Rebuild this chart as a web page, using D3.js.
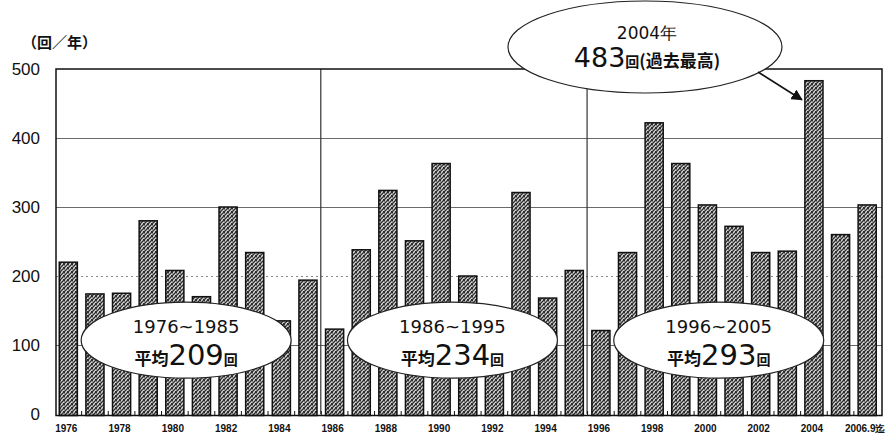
<!DOCTYPE html>
<html>
<head>
<meta charset="utf-8">
<script src="https://cdn.jsdelivr.net/npm/d3@7/dist/d3.min.js"></script>
<style>
  html, body { margin: 0; padding: 0; background: #fff; }
  svg { display: block; }
</style>
</head>
<body>
<script>
// Annual counts (回/年), 1976 through September 2006
const years = ["1976","1977","1978","1979","1980","1981","1982","1983","1984","1985",
               "1986","1987","1988","1989","1990","1991","1992","1993","1994","1995",
               "1996","1997","1998","1999","2000","2001","2002","2003","2004","2005","2006.9迄"];
const counts = [220, 174, 175, 280, 208, 170, 300, 234, 135, 194,
                123, 238, 324, 251, 363, 200, 144, 321, 168, 208,
                121, 234, 422, 363, 303, 272, 234, 236, 483, 260, 303];
const tickYears = ["1976","1978","1980","1982","1984","1986","1988","1990","1992","1994",
                   "1996","1998","2000","2002","2004","2006.9迄"];
const yTicks = [0, 100, 200, 300, 400, 500];
const periodLabels = ["1976~1985", "1986~1995", "1996~2005"];
const periodStarts = ["1976", "1986", "1996"];
const periodEnds = ["1985", "1995", "2005"];
const periodAverages = [209, 234, 293];
const recordYear = "2004";
const recordValue = 483;

const W = 893, H = 441;
const svg = d3.select("body").append("svg").attr("width", W).attr("height", H);

const x = d3.scaleBand().domain(years).range([55, 880.5]).paddingInner(0.32).paddingOuter(0.16);
const y = d3.scaleLinear().domain([0, 500]).range([414, 69]);
const frameL = 56, frameR = 882;

// dithered bar fill
const defs = svg.append("defs");
const pat = defs.append("pattern").attr("id", "dither")
  .attr("width", 4).attr("height", 4).attr("patternUnits", "userSpaceOnUse");
pat.append("rect").attr("width", 4).attr("height", 4).attr("fill", "#8a8a8a");
[[0,0],[2,1],[1,2],[3,3],[0,3],[3,0]].forEach(([px, py]) =>
  pat.append("rect").attr("x", px).attr("y", py).attr("width", 1).attr("height", 1).attr("fill", "#2e2e2e"));
[[2,3],[1,0],[3,2]].forEach(([px, py]) =>
  pat.append("rect").attr("x", px).attr("y", py).attr("width", 1).attr("height", 1).attr("fill", "#d8d8d8"));

// gridlines
svg.append("g").selectAll("line").data(yTicks.filter(t => t > 0 && t < 500)).join("line")
  .attr("x1", frameL).attr("x2", frameR)
  .attr("y1", d => y(d) + 0.5).attr("y2", d => y(d) + 0.5)
  .attr("stroke", d => d === 200 ? "#888" : "#6a6a6a")
  .attr("stroke-width", 1)
  .attr("stroke-dasharray", d => d === 200 ? "2,3" : null);

// period separators
svg.append("g").selectAll("line").data(periodStarts.slice(1)).join("line")
  .attr("x1", d => x(d) - x.step() * x.paddingInner() / 2 - 0.5)
  .attr("x2", d => x(d) - x.step() * x.paddingInner() / 2 - 0.5)
  .attr("y1", y(500)).attr("y2", y(0))
  .attr("stroke", "#333").attr("stroke-width", 1.2);

// bars
svg.append("g").selectAll("rect").data(years).join("rect")
  .attr("x", d => x(d))
  .attr("y", (d, i) => y(counts[i]))
  .attr("width", x.bandwidth())
  .attr("height", (d, i) => y(0) - y(counts[i]) + 1.5)
  .attr("fill", "url(#dither)")
  .attr("stroke", "#111").attr("stroke-width", 1.5);

// frame
svg.append("rect").attr("x", frameL).attr("y", y(500))
  .attr("width", frameR - frameL).attr("height", y(0) - y(500) + 1.5)
  .attr("fill", "none").attr("stroke", "#111").attr("stroke-width", 1.5);

// small ticks at band boundaries along the baseline
svg.append("g").selectAll("line").data(years.slice(1)).join("line")
  .attr("x1", d => x(d) - x.step() * x.paddingInner() / 2)
  .attr("x2", d => x(d) - x.step() * x.paddingInner() / 2)
  .attr("y1", y(0) + 1.5).attr("y2", y(0) - 3)
  .attr("stroke", "#111").attr("stroke-width", 1);

// y axis labels
svg.append("g").selectAll("text").data(yTicks).join("text")
  .attr("x", 40).attr("y", d => y(d))
  .attr("dy", "0.36em")
  .attr("text-anchor", "end")
  .attr("font-family", "Liberation Sans, Arial, sans-serif")
  .attr("font-size", 17)
  .attr("fill", "#111")
  .text(d => d);

svg.append("text").attr("x", 22).attr("y", 48)
  .attr("font-family", "Noto Sans CJK JP, sans-serif")
  .attr("font-size", 15).attr("font-weight", "bold").attr("fill", "#111")
  .text("（回／年）");

// x axis labels
svg.append("g").selectAll("text").data(tickYears).join("text")
  .attr("x", d => x(d) + x.bandwidth() / 2 - 2)
  .attr("y", 432)
  .attr("text-anchor", "middle")
  .attr("font-family", "Liberation Sans, Arial, sans-serif")
  .attr("font-size", 10).attr("font-weight", "bold")
  .attr("fill", "#111")
  .text(d => d);

// period average callouts
const periodG = svg.append("g");
periodLabels.forEach((lab, i) => {
  const cx = (x(periodStarts[i]) - x.step() * x.paddingInner() / 2 +
              x(periodEnds[i]) + x.bandwidth() + x.step() * x.paddingInner() / 2) / 2 - 2;
  const cy = y(107);
  const g = periodG.append("g");
  g.append("ellipse").attr("cx", cx).attr("cy", cy).attr("rx", 105).attr("ry", 38)
    .attr("fill", "#fff").attr("stroke", "#222").attr("stroke-width", 1.2);
  g.append("text").attr("x", cx).attr("y", cy - 7)
    .attr("text-anchor", "middle")
    .attr("font-family", "DejaVu Sans, sans-serif").attr("font-size", 18).attr("fill", "#111")
    .text(lab);
  const t = g.append("text").attr("x", cx).attr("y", cy + 25)
    .attr("text-anchor", "middle").attr("fill", "#111");
  t.append("tspan").attr("font-family", "Noto Sans CJK JP, sans-serif")
    .attr("font-size", 17).attr("font-weight", "bold").text("平均");
  t.append("tspan").attr("font-family", "DejaVu Sans, sans-serif")
    .attr("font-size", 29).text(periodAverages[i]);
  t.append("tspan").attr("font-family", "Noto Sans CJK JP, sans-serif")
    .attr("font-size", 14).attr("font-weight", "bold").text("回");
});

// record callout
const rec = svg.append("g");
const rcx = 645, rcy = 47;
const barX = x(recordYear), barY = y(recordValue);
rec.append("ellipse").attr("cx", rcx).attr("cy", rcy).attr("rx", 137).attr("ry", 46)
  .attr("fill", "#fff").attr("stroke", "#222").attr("stroke-width", 1.2);
rec.append("text").attr("x", rcx + 2).attr("y", 39)
  .attr("text-anchor", "middle")
  .attr("font-family", "DejaVu Sans, sans-serif").attr("font-size", 17).attr("fill", "#111")
  .text(recordYear + "年");
const rt = rec.append("text").attr("x", rcx + 2).attr("y", 67)
  .attr("text-anchor", "middle").attr("fill", "#111");
rt.append("tspan").attr("font-family", "DejaVu Sans, sans-serif")
  .attr("font-size", 27).text(recordValue);
rt.append("tspan").attr("font-family", "Noto Sans CJK JP, sans-serif")
  .attr("font-size", 14).attr("font-weight", "bold").text("回");
rt.append("tspan").attr("font-family", "Noto Sans CJK JP, sans-serif")
  .attr("font-size", 17).attr("font-weight", "bold").text("(過去最高)");

// arrow to the record bar
defs.append("marker").attr("id", "arrowhead")
  .attr("viewBox", "0 0 10 10").attr("refX", 9).attr("refY", 5)
  .attr("markerWidth", 7).attr("markerHeight", 7).attr("orient", "auto")
  .append("path").attr("d", "M0,0 L10,5 L0,10 Z").attr("fill", "#111");
rec.append("line")
  .attr("x1", 758).attr("y1", 72)
  .attr("x2", barX - 3).attr("y2", barY + 19)
  .attr("stroke", "#111").attr("stroke-width", 1.6)
  .attr("marker-end", "url(#arrowhead)");
</script>
</body>
</html>
